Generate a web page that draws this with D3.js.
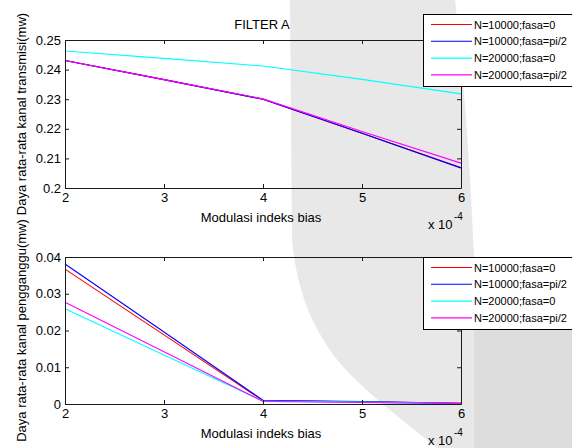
<!DOCTYPE html>
<html>
<head>
<meta charset="utf-8">
<script src="https://cdn.jsdelivr.net/npm/d3@7"></script>
<style>
  body { margin: 0; background: #fff; }
  svg { display: block; font-family: "Liberation Sans", Arial, sans-serif; }
</style>
</head>
<body>
<div id="chart"></div>
<script>
// modulasi indeks bias (x 10^-4)
const xs = [2, 3, 4, 5, 6];
const xTicks = [2, 3, 4, 5, 6];
const xTickLabels = ["2", "3", "4", "5", "6"];

const seriesNames = ["N=10000;fasa=0", "N=10000;fasa=pi/2", "N=20000;fasa=0", "N=20000;fasa=pi/2"];
const seriesColors = ["#ff0000", "#0000ff", "#00ffff", "#ff00ff"];

// FILTER A - daya kanal transmisi
const transRed = [0.2431, 0.2366, 0.2300, 0.2185, 0.2068];
const transBlue = [0.2431, 0.2366, 0.2300, 0.2185, 0.2068];
const transCyan = [0.2463, 0.2438, 0.2412, 0.2367, 0.2318];
const transMagenta = [0.2431, 0.2366, 0.2301, 0.2191, 0.2084];
const transTicks = [0.2, 0.21, 0.22, 0.23, 0.24, 0.25];
const transTickLabels = ["0.2", "0.21", "0.22", "0.23", "0.24", "0.25"];

// daya kanal pengganggu
const intRed = [0.0367, 0.0188, 0.0009, 0.0006, 0.0002];
const intBlue = [0.0381, 0.0196, 0.0010, 0.0007, 0.0002];
const intCyan = [0.0259, 0.0133, 0.0008, 0.0005, 0.0001];
const intMagenta = [0.0277, 0.0142, 0.0007, 0.0004, 0.0001];
const intTicks = [0, 0.01, 0.02, 0.03, 0.04];
const intTickLabels = ["0", "0.01", "0.02", "0.03", "0.04"];

const width = 572, height = 448;
const svg = d3.select("#chart").append("svg")
    .attr("width", width)
    .attr("height", height)
    .attr("viewBox", [0, 0, width, height]);

svg.append("rect").attr("width", width).attr("height", height).attr("fill", "#fff");

// grey watermark in the background
svg.append("path")
    .attr("fill", "#e8e8e8")
    .attr("d", "M290,0 L455,0 C463,70 470,160 474,257 L474,448 L437,448 C390,410 350,380 330,350 C310,320 297,290 292,240 L290,0 Z");
svg.append("rect")
    .attr("x", 474).attr("y", 300).attr("width", 98).attr("height", 148)
    .attr("fill", "#dddddd");

const x = d3.scaleLinear().domain([2, 6]).range([65, 461]);

function panel({ top, bottom, domain, ticks, tickLabels, series, title, ylabel, legendY }) {
    const y = d3.scaleLinear().domain(domain).range([bottom, top]);
    const g = svg.append("g");
    const fs = "13px";

    // lines
    const line = d3.line().x((d, i) => x(xs[i])).y(d => y(d));
    series.forEach((s, k) => {
        g.append("path")
            .attr("fill", "none")
            .attr("stroke", seriesColors[k])
            .attr("stroke-width", 1.1)
            .attr("d", line(s));
    });

    // box axes, ticks pointing inward
    const xb = g.append("g").attr("transform", `translate(0,${bottom})`)
        .call(d3.axisBottom(x).tickValues(xTicks).tickSizeInner(-4).tickSizeOuter(0).tickPadding(5)
            .tickFormat((d, i) => xTickLabels[i]));
    const xt = g.append("g").attr("transform", `translate(0,${top})`)
        .call(d3.axisTop(x).tickValues(xTicks).tickSizeInner(-4).tickSizeOuter(0).tickFormat(""));
    const yl = g.append("g").attr("transform", `translate(${x.range()[0]},0)`)
        .call(d3.axisLeft(y).tickValues(ticks).tickSizeInner(-4).tickSizeOuter(0).tickPadding(4)
            .tickFormat((d, i) => tickLabels[i]));
    const yr = g.append("g").attr("transform", `translate(${x.range()[1]},0)`)
        .call(d3.axisRight(y).tickValues(ticks).tickSizeInner(-4).tickSizeOuter(0).tickFormat(""));
    [xb, xt, yl, yr].forEach(a => {
        a.selectAll("path.domain").attr("stroke", "#1a1a1a");
        a.selectAll(".tick line").attr("stroke", "#1a1a1a");
        a.selectAll("text").attr("font-size", fs).attr("fill", "#000")
            .attr("font-family", "'Liberation Sans', Arial, sans-serif");
    });

    if (title) {
        g.append("text").attr("x", 262).attr("y", top - 11)
            .attr("text-anchor", "middle").attr("font-size", fs).text(title);
    }
    g.append("text").attr("x", 261).attr("y", bottom + 34)
        .attr("text-anchor", "middle").attr("font-size", fs).text("Modulasi indeks bias");
    g.append("text").attr("x", 428).attr("y", bottom + 41)
        .attr("font-size", fs).text("x 10");
    g.append("text").attr("x", 454).attr("y", bottom + 32)
        .attr("font-size", "10px").text("-4");
    g.append("text")
        .attr("transform", `translate(26,${(top + bottom) / 2}) rotate(-90)`)
        .attr("text-anchor", "middle").attr("font-size", fs).text(ylabel);

    // legend
    const lg = svg.append("g").attr("transform", `translate(423,${legendY})`);
    lg.append("rect").attr("x", 0.5).attr("y", 0.5).attr("width", 160).attr("height", 72)
        .attr("fill", "#fff").attr("stroke", "#000");
    seriesNames.forEach((name, k) => {
        const ly = 10.5 + k * 16.8;
        lg.append("line").attr("x1", 8).attr("x2", 49).attr("y1", ly).attr("y2", ly)
            .attr("stroke", seriesColors[k]).attr("stroke-width", 1.1);
        lg.append("text").attr("x", 51).attr("y", ly + 4)
            .attr("font-size", "11px").text(name);
    });
}

panel({
    top: 40, bottom: 188, domain: [0.2, 0.25],
    ticks: transTicks, tickLabels: transTickLabels,
    series: [transRed, transBlue, transCyan, transMagenta],
    title: "FILTER A",
    ylabel: "Daya rata-rata kanal transmisi(mw)",
    legendY: 14
});
panel({
    top: 257, bottom: 404, domain: [0, 0.04],
    ticks: intTicks, tickLabels: intTickLabels,
    series: [intRed, intBlue, intCyan, intMagenta],
    title: null,
    ylabel: "Daya rata-rata kanal pengganggu(mw)",
    legendY: 257
});
</script>
</body>
</html>
